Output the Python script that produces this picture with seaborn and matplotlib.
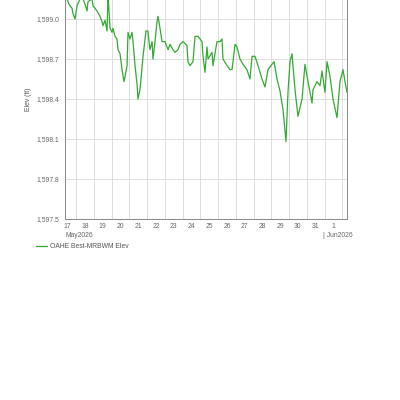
import pandas as pd
import numpy as np
import matplotlib
matplotlib.use("Agg")
import matplotlib.pyplot as plt
import matplotlib.dates as mdates
import matplotlib.ticker as mticker
import matplotlib.transforms as mtrans
import seaborn as sns

# Hours after 2026-05-17 00:00 and reservoir elevation (ft)
HOURS = [9, 12, 14.5, 18.6, 19.9, 22.6, 25.4, 29.4, 33.5, 36.2, 38.9, 40.2,
         45.6, 47.0, 52.4, 56.4, 59.2, 60.5, 63.2, 65.9, 67.3, 70.0, 72.7, 74.0,
         76.7, 79.4, 80.8, 83.5, 86.2, 88.9, 93.0, 94.3, 97.0, 99.7, 101.1, 103.8,
         106.5, 107.8, 110.5, 114.6, 118.6, 121.3, 122.7, 124.0, 126.8, 128.1,
         130.8, 133.5, 134.9, 137.6, 140.3, 144.3, 148.4, 151.1, 155.1, 157.8,
         161.9, 164.6, 168.7, 174.1, 175.4, 178.1, 182.2, 184.9, 188.9, 194.4,
         195.7, 198.4, 201.1, 202.5, 207.9, 209.2, 214.6, 218.7, 221.4, 222.7,
         228.2, 232.2, 234.9, 236.3, 239.0, 241.7, 245.7, 249.8, 255.2, 259.2,
         262.0, 266.0, 270.1, 275.5, 279.5, 283.6, 289.0, 291.7, 295.8, 299.8,
         303.9, 307.9, 310.6, 313.3, 316.0, 317.4, 320.1, 324.1, 329.6, 333.6,
         337.7, 343.1, 344.4, 349.8, 353.9, 356.6, 360.6, 363.4, 367.4, 371.5,
         376.9, 380.9, 385.0, 387.7, 390.4]
ELEV = [1599.14, 1599.15, 1599.11, 1599.08, 1599.04, 1599.00, 1599.10, 1599.15,
        1599.15, 1599.11, 1599.06, 1599.13, 1599.15, 1599.10, 1599.06, 1599.02,
        1598.98, 1598.95, 1598.99, 1598.91, 1599.18, 1598.93, 1598.90, 1598.93,
        1598.87, 1598.85, 1598.77, 1598.74, 1598.62, 1598.53, 1598.65, 1598.90,
        1598.85, 1598.90, 1598.83, 1598.65, 1598.51, 1598.40, 1598.47, 1598.72,
        1598.91, 1598.91, 1598.83, 1598.77, 1598.83, 1598.70, 1598.83, 1598.98,
        1599.02, 1598.93, 1598.83, 1598.83, 1598.77, 1598.81, 1598.77, 1598.75,
        1598.77, 1598.81, 1598.83, 1598.80, 1598.68, 1598.65, 1598.68, 1598.87,
        1598.87, 1598.83, 1598.72, 1598.60, 1598.79, 1598.70, 1598.75, 1598.65,
        1598.83, 1598.83, 1598.85, 1598.70, 1598.65, 1598.62, 1598.62, 1598.68,
        1598.81, 1598.79, 1598.70, 1598.66, 1598.62, 1598.55, 1598.72, 1598.72,
        1598.65, 1598.55, 1598.49, 1598.62, 1598.66, 1598.68, 1598.55, 1598.46,
        1598.32, 1598.08, 1598.45, 1598.68, 1598.74, 1598.65, 1598.47, 1598.27,
        1598.40, 1598.66, 1598.53, 1598.37, 1598.47, 1598.53, 1598.50, 1598.61,
        1598.45, 1598.68, 1598.57, 1598.40, 1598.26, 1598.53, 1598.62, 1598.53,
        1598.45]

START = pd.Timestamp("2026-05-17")
SERIES_NAME = "OAHE Best-MRBWM Elev"
Y_TICKS = [1597.5, 1597.8, 1598.1, 1598.4, 1598.7, 1599.0]

FS = 4.9
TXT = "#666666"

df = pd.DataFrame({
    "time": START + pd.to_timedelta(HOURS, unit="h"),
    "elev": ELEV,
})

sns.set_style("white")
plt.rcParams["font.family"] = ["Liberation Sans Narrow", "Liberation Sans", "DejaVu Sans"]
plt.rcParams["font.size"] = FS

fig = plt.figure(figsize=(4, 4), dpi=100)
ax = fig.add_axes([0.1625, 0.4525, 0.705, 0.6])

sns.lineplot(data=df, x="time", y="elev", ax=ax, color="#33aa33",
             linewidth=0.9, label=SERIES_NAME, legend=False)

ax.set_xlim(START + pd.Timedelta(hours=9.1), START + pd.Timedelta(hours=390.4))
ax.set_ylim(1597.5, 1599.3)

# y axis
ax.set_yticks(Y_TICKS)
ax.yaxis.set_major_formatter(mticker.FuncFormatter(lambda v, p: f"{v:,.1f}"))
ax.set_ylabel("Elev (ft)", color="#555555", fontsize=FS, labelpad=3)
ax.tick_params(axis="y", length=3, width=0.6, color="#888888",
               labelcolor=TXT, pad=1, labelsize=FS)

# x axis: labels at noon, ticks/grid at midnight
ax.xaxis.set_major_locator(mdates.HourLocator(byhour=[12]))
ax.xaxis.set_major_formatter(mdates.DateFormatter("%-d"))
ax.xaxis.set_minor_locator(mdates.DayLocator())
ax.tick_params(axis="x", which="major", length=0, labelcolor=TXT, pad=3,
               labelsize=FS)
ax.tick_params(axis="x", which="minor", length=4, width=0.6, color="#888888")

ax.grid(True, axis="y", which="major", color="#dddddd", linewidth=0.7)
ax.grid(True, axis="x", which="minor", color="#dddddd", linewidth=0.7)
ax.set_xlabel("")

for side in ["left", "bottom", "right"]:
    ax.spines[side].set_color("#888888")
    ax.spines[side].set_linewidth(0.7)
ax.spines["top"].set_visible(False)

ax.text(0.0, -0.067, "May2026", transform=ax.transAxes, ha="left", va="center",
        color=TXT, fontsize=FS)
jun_x = mdates.date2num(pd.Timestamp("2026-05-31 22:00"))
ax.text(jun_x, -0.067, "| Jun2026",
        transform=mtrans.blended_transform_factory(ax.transData, ax.transAxes),
        ha="left", va="center", color=TXT, fontsize=FS)

handles, labels = ax.get_legend_handles_labels()
fig.legend(handles, labels, loc="center left", bbox_to_anchor=(0.075, 0.383),
           frameon=False, fontsize=FS, handlelength=1.6, handletextpad=0.4,
           labelcolor="#555555")

fig.savefig("out.png", dpi=100)
